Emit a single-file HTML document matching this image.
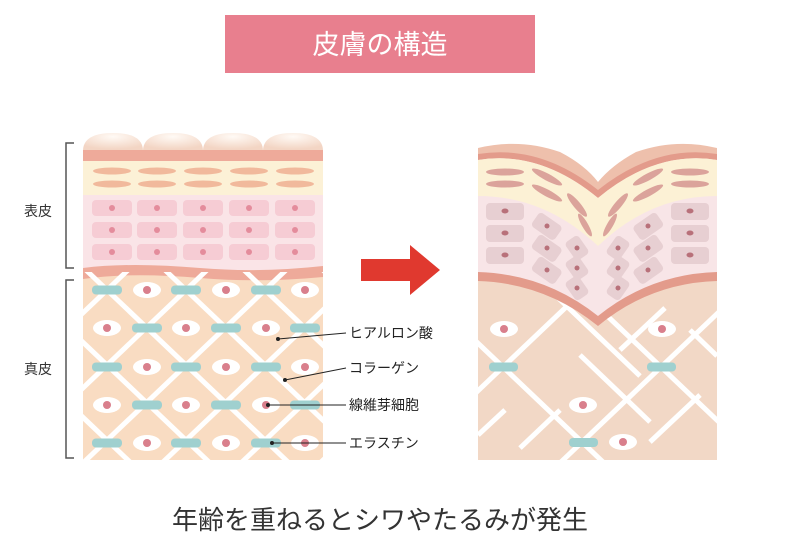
<!DOCTYPE html>
<html><head><meta charset="utf-8"><style>
html,body{margin:0;padding:0;background:#fff;width:800px;height:534px;overflow:hidden}
svg{display:block}
text{font-family:"Liberation Sans","Noto Sans CJK JP",sans-serif}
</style></head><body>
<svg width="800" height="534" viewBox="0 0 800 534" xmlns="http://www.w3.org/2000/svg">
<defs>
<clipPath id="cl"><rect x="83" y="272" width="240" height="188"/></clipPath>
<clipPath id="cr"><rect x="478" y="260" width="239" height="200"/></clipPath>
<radialGradient id="bump" cx="0.5" cy="0.2" r="0.7"><stop offset="0" stop-color="#fffaf5"/><stop offset="1" stop-color="#f3d5c4"/></radialGradient>
</defs>
<!-- title -->
<rect x="225" y="15" width="310" height="58" fill="#e87f8e"/>
<text x="380" y="54" font-size="27" fill="#fff" text-anchor="middle">皮膚の構造</text>

<!-- brackets -->
<path d="M74,143 H66 V268 H74" fill="none" stroke="#555" stroke-width="1.5"/>
<path d="M74,280 H66 V458 H74" fill="none" stroke="#555" stroke-width="1.5"/>
<text x="38" y="216" font-size="14" fill="#333" text-anchor="middle">表皮</text>
<text x="38" y="374" font-size="14" fill="#333" text-anchor="middle">真皮</text>

<!-- LEFT -->
<g fill="url(#bump)">
<path d="M83,151 Q83,133 113,133 Q143,133 143,151 Z"/>
<path d="M143,151 Q143,133 173,133 Q203,133 203,151 Z"/>
<path d="M203,151 Q203,133 233,133 Q263,133 263,151 Z"/>
<path d="M263,151 Q263,133 293,133 Q323,133 323,151 Z"/>
</g>
<rect x="83" y="150" width="240" height="11" fill="#eeaa9a"/>
<rect x="83" y="161" width="240" height="34" fill="#fcf1d6"/>
<g fill="#f1b99c">
<ellipse cx="112" cy="171" rx="19" ry="3.5"/><ellipse cx="157" cy="171" rx="19" ry="3.5"/><ellipse cx="203" cy="171" rx="19" ry="3.5"/><ellipse cx="249" cy="171" rx="19" ry="3.5"/><ellipse cx="295" cy="171" rx="19" ry="3.5"/>
<ellipse cx="112" cy="184" rx="19" ry="3.5"/><ellipse cx="157" cy="184" rx="19" ry="3.5"/><ellipse cx="203" cy="184" rx="19" ry="3.5"/><ellipse cx="249" cy="184" rx="19" ry="3.5"/><ellipse cx="295" cy="184" rx="19" ry="3.5"/>
</g>
<rect x="83" y="195" width="240" height="78" fill="#fae4e7"/>
<g fill="#f6ccd4">
<rect x="92" y="200" width="40" height="16" rx="4"/><rect x="137" y="200" width="40" height="16" rx="4"/><rect x="183" y="200" width="40" height="16" rx="4"/><rect x="229" y="200" width="40" height="16" rx="4"/><rect x="275" y="200" width="40" height="16" rx="4"/>
<rect x="92" y="222" width="40" height="16" rx="4"/><rect x="137" y="222" width="40" height="16" rx="4"/><rect x="183" y="222" width="40" height="16" rx="4"/><rect x="229" y="222" width="40" height="16" rx="4"/><rect x="275" y="222" width="40" height="16" rx="4"/>
<rect x="92" y="244" width="40" height="16" rx="4"/><rect x="137" y="244" width="40" height="16" rx="4"/><rect x="183" y="244" width="40" height="16" rx="4"/><rect x="229" y="244" width="40" height="16" rx="4"/><rect x="275" y="244" width="40" height="16" rx="4"/>
</g>
<g fill="#e48c9c">
<circle cx="112" cy="208" r="3"/><circle cx="157" cy="208" r="3"/><circle cx="203" cy="208" r="3"/><circle cx="249" cy="208" r="3"/><circle cx="295" cy="208" r="3"/>
<circle cx="112" cy="230" r="3"/><circle cx="157" cy="230" r="3"/><circle cx="203" cy="230" r="3"/><circle cx="249" cy="230" r="3"/><circle cx="295" cy="230" r="3"/>
<circle cx="112" cy="252" r="3"/><circle cx="157" cy="252" r="3"/><circle cx="203" cy="252" r="3"/><circle cx="249" cy="252" r="3"/><circle cx="295" cy="252" r="3"/>
</g>
<rect x="83" y="272" width="240" height="188" fill="#f9dcc2"/>
<path d="M83,268 Q130,262 200,268 Q260,273 323,266 L323,277 Q260,283 200,278 Q130,272 83,279 Z" fill="#eeaa9a"/>
<g clip-path="url(#cl)" stroke="#fff" stroke-width="5">
<line x1="-393" y1="40" x2="133" y2="540"/><line x1="-314" y1="40" x2="212" y2="540"/><line x1="-235" y1="40" x2="291" y2="540"/><line x1="-156" y1="40" x2="370" y2="540"/><line x1="-77" y1="40" x2="449" y2="540"/><line x1="2" y1="40" x2="528" y2="540"/><line x1="81" y1="40" x2="607" y2="540"/>
<line x1="370" y1="40" x2="-156" y2="540"/><line x1="449" y1="40" x2="-77" y2="540"/><line x1="528" y1="40" x2="2" y2="540"/><line x1="607" y1="40" x2="81" y2="540"/><line x1="686" y1="40" x2="160" y2="540"/><line x1="765" y1="40" x2="239" y2="540"/>
</g>
<g clip-path="url(#cl)">
<g fill="#9fd0cf">
<rect x="92" y="285.5" width="30" height="9" rx="4"/><rect x="171" y="285.5" width="30" height="9" rx="4"/><rect x="251" y="285.5" width="30" height="9" rx="4"/>
<rect x="132" y="323.5" width="30" height="9" rx="4"/><rect x="211" y="323.5" width="30" height="9" rx="4"/><rect x="290" y="323.5" width="30" height="9" rx="4"/>
<rect x="92" y="362.5" width="30" height="9" rx="4"/><rect x="171" y="362.5" width="30" height="9" rx="4"/><rect x="251" y="362.5" width="30" height="9" rx="4"/>
<rect x="132" y="400.5" width="30" height="9" rx="4"/><rect x="211" y="400.5" width="30" height="9" rx="4"/><rect x="290" y="400.5" width="30" height="9" rx="4"/>
<rect x="92" y="438.5" width="30" height="9" rx="4"/><rect x="171" y="438.5" width="30" height="9" rx="4"/><rect x="251" y="438.5" width="30" height="9" rx="4"/>
</g>
<g fill="#fff">
<ellipse cx="147" cy="290" rx="14" ry="8"/><ellipse cx="226" cy="290" rx="14" ry="8"/><ellipse cx="305" cy="290" rx="14" ry="8"/>
<ellipse cx="107" cy="328" rx="14" ry="8"/><ellipse cx="186" cy="328" rx="14" ry="8"/><ellipse cx="266" cy="328" rx="14" ry="8"/>
<ellipse cx="147" cy="367" rx="14" ry="8"/><ellipse cx="226" cy="367" rx="14" ry="8"/><ellipse cx="305" cy="367" rx="14" ry="8"/>
<ellipse cx="107" cy="405" rx="14" ry="8"/><ellipse cx="186" cy="405" rx="14" ry="8"/><ellipse cx="266" cy="405" rx="14" ry="8"/>
<ellipse cx="147" cy="443" rx="14" ry="8"/><ellipse cx="226" cy="443" rx="14" ry="8"/><ellipse cx="305" cy="443" rx="14" ry="8"/>
</g>
<g fill="#d97f8c">
<circle cx="147" cy="290" r="4"/><circle cx="226" cy="290" r="4"/><circle cx="305" cy="290" r="4"/>
<circle cx="107" cy="328" r="4"/><circle cx="186" cy="328" r="4"/><circle cx="266" cy="328" r="4"/>
<circle cx="147" cy="367" r="4"/><circle cx="226" cy="367" r="4"/><circle cx="305" cy="367" r="4"/>
<circle cx="107" cy="405" r="4"/><circle cx="186" cy="405" r="4"/><circle cx="266" cy="405" r="4"/>
<circle cx="147" cy="443" r="4"/><circle cx="226" cy="443" r="4"/><circle cx="305" cy="443" r="4"/>
</g>
</g>
<!-- labels -->
<g stroke="#222" stroke-width="1"><line x1="278" y1="339" x2="346" y2="333"/><line x1="285" y1="380" x2="346" y2="368"/><line x1="268" y1="405" x2="346" y2="405"/><line x1="272" y1="443" x2="346" y2="443"/></g>
<g fill="#222"><circle cx="278" cy="339" r="2"/><circle cx="285" cy="380" r="2"/><circle cx="268" cy="405" r="2"/><circle cx="272" cy="443" r="2"/></g>
<g font-size="14" fill="#222">
<text x="349" y="338">ヒアルロン酸</text><text x="349" y="373">コラーゲン</text><text x="349" y="410">線維芽細胞</text><text x="349" y="448">エラスチン</text>
</g>

<!-- arrow -->
<path d="M361,259 H410 V245 L440,270 L410,295 V281 H361 Z" fill="#e0392f"/>

<!-- RIGHT -->
<rect x="478" y="265" width="239" height="195" fill="#f2d8c6"/>
<g clip-path="url(#cr)" stroke="#fff" stroke-width="5">
<line x1="303" y1="177" x2="703" y2="557"/><line x1="461" y1="177" x2="861" y2="557"/><line x1="145" y1="177" x2="545" y2="557"/>
<line x1="703" y1="177" x2="303" y2="557"/><line x1="861" y1="177" x2="461" y2="557"/><line x1="545" y1="177" x2="145" y2="557"/>
<line x1="555" y1="295" x2="640" y2="376"/><line x1="580" y1="355" x2="650" y2="422"/><line x1="560" y1="410" x2="520" y2="448"/>
<line x1="690" y1="330" x2="717" y2="356"/><line x1="700" y1="395" x2="650" y2="442"/><line x1="478" y1="435" x2="505" y2="410"/>
<line x1="620" y1="350" x2="665" y2="308"/>
</g>
<g fill="#fff"><ellipse cx="504" cy="329" rx="14" ry="8"/><ellipse cx="662" cy="329" rx="14" ry="8"/><ellipse cx="583" cy="405" rx="14" ry="8"/><ellipse cx="623" cy="442" rx="14" ry="8"/></g>
<g fill="#d97f8c"><circle cx="504" cy="329" r="4"/><circle cx="662" cy="329" r="4"/><circle cx="583" cy="405" r="4"/><circle cx="623" cy="442" r="4"/></g>
<g fill="#9fd0cf"><rect x="489" y="362.5" width="29" height="9" rx="4"/><rect x="647" y="362.5" width="29" height="9" rx="4"/><rect x="569" y="438" width="29" height="9" rx="4"/></g>
<!-- epidermis -->
<path d="M478,150 Q540,138 598,186 Q656,138 717,150 L717,281 Q650,283 598,326 Q545,283 478,281 Z" fill="#e39b8b"/>
<path d="M478,160 Q540,150 598,198 Q656,150 717,160 L717,272 Q650,274 598,316 Q545,274 478,272 Z" fill="#f8e5e7"/>
<path d="M478,160 Q540,150 598,198 Q656,150 717,160 L717,196 Q650,196 598,246 Q545,196 478,196 Z" fill="#fcf1d5"/>
<path d="M478,148 Q520,138 560,152 Q585,165 598,182 Q612,165 636,152 Q676,138 717,148 L717,154 Q656,144 598,190 Q540,144 478,154 Z" fill="#eec0ac"/>
<g fill="#dba39b">
<ellipse cx="505" cy="172" rx="19" ry="3.5"/><ellipse cx="505" cy="184" rx="19" ry="3.5"/>
<ellipse cx="690" cy="172" rx="19" ry="3.5"/><ellipse cx="690" cy="184" rx="19" ry="3.5"/>
<ellipse cx="547" cy="177" rx="17" ry="3.5" transform="rotate(28 547 177)"/><ellipse cx="547" cy="193" rx="17" ry="3.5" transform="rotate(28 547 193)"/>
<ellipse cx="577" cy="205" rx="15" ry="3.5" transform="rotate(50 577 205)"/><ellipse cx="585" cy="225" rx="13" ry="3" transform="rotate(60 585 225)"/>
<ellipse cx="648" cy="177" rx="17" ry="3.5" transform="rotate(-28 648 177)"/><ellipse cx="648" cy="193" rx="17" ry="3.5" transform="rotate(-28 648 193)"/>
<ellipse cx="618" cy="205" rx="15" ry="3.5" transform="rotate(-50 618 205)"/><ellipse cx="610" cy="225" rx="13" ry="3" transform="rotate(-60 610 225)"/>
</g>
<g fill="#e7cfd2">
<rect x="486" y="203" width="38" height="17" rx="4"/><rect x="486" y="225" width="38" height="17" rx="4"/><rect x="486" y="247" width="38" height="17" rx="4"/>
<rect x="671" y="203" width="38" height="17" rx="4"/><rect x="671" y="225" width="38" height="17" rx="4"/><rect x="671" y="247" width="38" height="17" rx="4"/>
<rect x="533" y="218" width="28" height="17" rx="4" transform="rotate(35 547 226)"/><rect x="533" y="240" width="28" height="17" rx="4" transform="rotate(35 547 248)"/><rect x="533" y="262" width="28" height="17" rx="4" transform="rotate(35 547 270)"/>
<rect x="566" y="240" width="22" height="16" rx="4" transform="rotate(55 577 248)"/><rect x="566" y="260" width="22" height="16" rx="4" transform="rotate(55 577 268)"/><rect x="566" y="280" width="22" height="16" rx="4" transform="rotate(55 577 288)"/>
<rect x="634" y="218" width="28" height="17" rx="4" transform="rotate(-35 648 226)"/><rect x="634" y="240" width="28" height="17" rx="4" transform="rotate(-35 648 248)"/><rect x="634" y="262" width="28" height="17" rx="4" transform="rotate(-35 648 270)"/>
<rect x="607" y="240" width="22" height="16" rx="4" transform="rotate(-55 618 248)"/><rect x="607" y="260" width="22" height="16" rx="4" transform="rotate(-55 618 268)"/><rect x="607" y="280" width="22" height="16" rx="4" transform="rotate(-55 618 288)"/>
</g>
<g fill="#b8717a">
<ellipse cx="505" cy="211" rx="3.5" ry="2.5"/><ellipse cx="505" cy="233" rx="3.5" ry="2.5"/><ellipse cx="505" cy="255" rx="3.5" ry="2.5"/>
<ellipse cx="690" cy="211" rx="3.5" ry="2.5"/><ellipse cx="690" cy="233" rx="3.5" ry="2.5"/><ellipse cx="690" cy="255" rx="3.5" ry="2.5"/>
<circle cx="547" cy="226" r="2.5"/><circle cx="547" cy="248" r="2.5"/><circle cx="547" cy="270" r="2.5"/>
<circle cx="577" cy="248" r="2.5"/><circle cx="577" cy="268" r="2.5"/><circle cx="577" cy="288" r="2.5"/>
<circle cx="648" cy="226" r="2.5"/><circle cx="648" cy="248" r="2.5"/><circle cx="648" cy="270" r="2.5"/>
<circle cx="618" cy="248" r="2.5"/><circle cx="618" cy="268" r="2.5"/><circle cx="618" cy="288" r="2.5"/>
</g>

<text x="380" y="529" font-size="26" fill="#333" text-anchor="middle">年齢を重ねるとシワやたるみが発生</text>
</svg>
</body></html>
